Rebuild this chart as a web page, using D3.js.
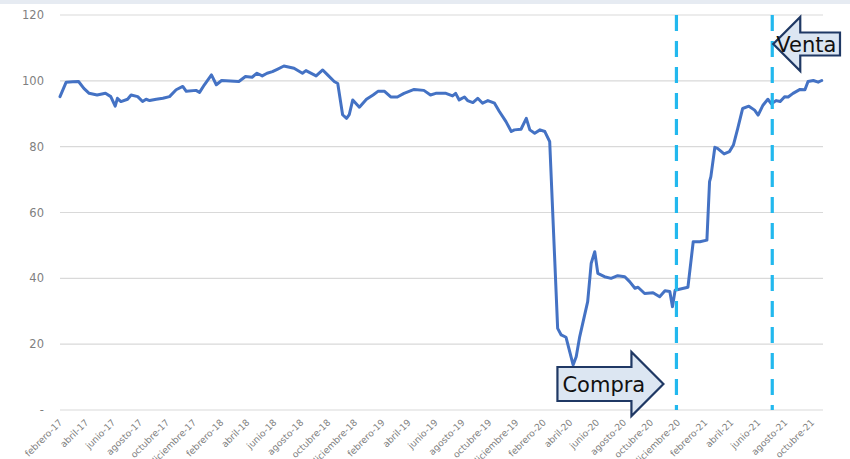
<!DOCTYPE html>
<html>
<head>
<meta charset="utf-8">
<script src="https://cdn.jsdelivr.net/npm/d3@7"></script>
<style>
  html, body { margin: 0; padding: 0; background: #ffffff; }
  svg { display: block; }
</style>
</head>
<body>
<svg id="chart" width="850" height="459"></svg>
<script>
// ---- data ----
const dates = [
  "2017-02-01","2017-02-15","2017-03-02","2017-03-15","2017-03-27","2017-04-08","2017-04-26","2017-05-15","2017-05-27","2017-06-06",
  "2017-06-11","2017-06-19","2017-07-04","2017-07-12","2017-07-27","2017-08-07","2017-08-15","2017-08-23","2017-09-07","2017-09-22",
  "2017-10-07","2017-10-22","2017-11-06","2017-11-14","2017-12-06","2017-12-14","2017-12-25","2018-01-10","2018-01-21","2018-02-02",
  "2018-03-13","2018-03-28","2018-04-12","2018-04-23","2018-05-05","2018-05-16","2018-05-28","2018-06-08","2018-06-23","2018-07-16",
  "2018-08-04","2018-08-12","2018-09-04","2018-09-19","2018-09-30","2018-10-15","2018-10-23","2018-11-03","2018-11-12","2018-11-18",
  "2018-11-26","2018-12-11","2018-12-27","2019-01-11","2019-01-22","2019-02-06","2019-02-20","2019-03-07","2019-03-22","2019-04-14",
  "2019-05-06","2019-05-21","2019-06-02","2019-06-25","2019-07-10","2019-07-17","2019-07-25","2019-08-06","2019-08-13","2019-08-25",
  "2019-09-05","2019-09-16","2019-09-28","2019-10-13","2019-10-24","2019-11-08","2019-11-20","2019-11-27","2019-12-12","2019-12-24",
  "2020-01-01","2020-01-12","2020-01-24","2020-02-04","2020-02-15","2020-03-04","2020-03-12","2020-03-23","2020-04-08","2020-04-15",
  "2020-04-23","2020-05-11","2020-05-19","2020-05-27","2020-06-03","2020-06-18","2020-07-03","2020-07-18","2020-08-03","2020-08-14",
  "2020-08-26","2020-09-02","2020-09-17","2020-10-06","2020-10-21","2020-11-02","2020-11-13","2020-11-19","2020-11-25","2020-12-24",
  "2021-01-05","2021-01-20","2021-02-05","2021-02-11","2021-02-14","2021-02-23","2021-03-01","2021-03-16","2021-03-28","2021-04-06",
  "2021-04-16","2021-04-27","2021-05-11","2021-05-24","2021-06-01","2021-06-12","2021-06-23","2021-07-01","2021-07-12","2021-07-21",
  "2021-07-31","2021-08-08","2021-08-19","2021-09-04","2021-09-15","2021-09-22","2021-10-04","2021-10-15","2021-10-23"
];
const values = [
  95.2, 99.6, 99.7, 99.8, 97.7, 96.2, 95.7, 96.2, 95.2, 92.3,
  94.7, 93.7, 94.4, 95.7, 95.2, 93.7, 94.4, 94.0, 94.4, 94.7,
  95.2, 97.3, 98.3, 96.8, 97.1, 96.5, 98.8, 101.8, 98.8, 100.1,
  99.8, 101.3, 101.1, 102.3, 101.5, 102.3, 102.8, 103.5, 104.5, 103.8,
  102.3, 103.1, 101.5, 103.3, 101.8, 99.8, 99.2, 89.7, 88.6, 89.7,
  94.2, 92.0, 94.4, 95.7, 96.8, 96.8, 95.1, 95.1, 96.2, 97.4,
  97.1, 95.7, 96.2, 96.2, 95.4, 96.2, 94.2, 95.1, 94.0, 93.4,
  94.7, 93.2, 94.0, 93.2, 90.7, 87.6, 84.6, 85.1, 85.3, 88.6,
  85.1, 84.1, 85.1, 84.6, 81.5, 24.8, 22.8, 22.1, 13.7, 16.2,
  22.3, 32.9, 44.6, 48.1, 41.5, 40.5, 40.0, 40.8, 40.5, 39.0,
  37.0, 37.3, 35.4, 35.6, 34.4, 36.2, 36.0, 31.4, 36.4, 37.3,
  51.1, 51.1, 51.6, 69.4, 70.9, 79.8, 79.5, 77.8, 78.5, 80.5,
  85.6, 91.6, 92.3, 91.1, 89.6, 92.6, 94.4, 93.0, 94.0, 93.7,
  95.2, 95.1, 96.2, 97.4, 97.3, 99.8, 100.1, 99.6, 100.1
];
const yTickValues = [0, 20, 40, 60, 80, 100, 120];
const yTickLabels = ["-", "20", "40", "60", "80", "100", "120"];
const xTickStart = "2017-02-01";
const xTickEnd = "2021-10-01";
const monthNames = ["enero","febrero","marzo","abril","mayo","junio","julio","agosto","septiembre","octubre","noviembre","diciembre"];
const eventDates = ["2020-11-28", "2021-07-03"];
const eventLabels = ["Compra", "Venta"];

// ---- setup ----
const parse = d3.timeParse("%Y-%m-%d");
const data = dates.map((d, i) => ({ date: parse(d), value: values[i] }));
const svg = d3.select("#chart");
const W = 850, H = 459;
const mLeft = 60, mRight = 823, mTop = 15, mBottom = 410;

const x = d3.scaleTime()
  .domain([parse(xTickStart), parse(xTickEnd)])
  .range([mLeft, 812]);
const y = d3.scaleLinear().domain([0, 120]).range([mBottom, mTop]);

const locale = d3.timeFormatLocale({
  dateTime: "%x, %X", date: "%d/%m/%Y", time: "%H:%M:%S", periods: ["AM", "PM"],
  days: ["domingo","lunes","martes","miércoles","jueves","viernes","sábado"],
  shortDays: ["dom","lun","mar","mié","jue","vie","sáb"],
  months: monthNames,
  shortMonths: monthNames.map(m => m.slice(0, 3))
});
const fmt = locale.format("%B-%y");

// top band
svg.append("rect").attr("x", 0).attr("y", 0).attr("width", W).attr("height", 4).attr("fill", "#E6EBF2");

// gridlines
svg.append("g").selectAll("line").data(yTickValues).join("line")
  .attr("x1", mLeft).attr("x2", mRight)
  .attr("y1", d => y(d)).attr("y2", d => y(d))
  .attr("stroke", "#D9D9D9").attr("stroke-width", 1.2);

// y labels
svg.append("g").selectAll("text").data(yTickValues).join("text")
  .attr("x", 44).attr("y", d => y(d)).attr("dy", "0.35em")
  .attr("text-anchor", "end")
  .attr("font-family", "'DejaVu Sans', sans-serif")
  .attr("font-size", 11.5).attr("fill", "#7F7F7F")
  .text((d, i) => yTickLabels[i]);

// x labels
const xTicks = d3.timeMonth.range(parse(xTickStart), d3.timeDay.offset(parse(xTickEnd), 1), 2);
svg.append("g").selectAll("text").data(xTicks).join("text")
  .attr("transform", d => `translate(${x(d) + 3},${mBottom + 13}) rotate(-45)`)
  .attr("text-anchor", "end")
  .attr("font-family", "'DejaVu Sans', sans-serif")
  .attr("font-size", 9.2).attr("fill", "#7F7F7F")
  .text(d => fmt(d));

// line
const line = d3.line().x(d => x(d.date)).y(d => y(d.value)).curve(d3.curveLinear);
svg.append("path").datum(data)
  .attr("d", line).attr("fill", "none")
  .attr("stroke", "#4472C4").attr("stroke-width", 3)
  .attr("stroke-linejoin", "round").attr("stroke-linecap", "round");

// event dashed lines
const ev = eventDates.map(parse);
svg.append("g").selectAll("line").data(ev).join("line")
  .attr("x1", d => x(d)).attr("x2", d => x(d))
  .attr("y1", y(120)).attr("y2", y(0))
  .attr("stroke", "#22B8EE").attr("stroke-width", 3.2)
  .attr("stroke-dasharray", "16,10");

// Compra arrow (right-pointing), tip left of first event line
{
  const tipX = x(ev[0]) - 13, cy = 384;
  const bodyL = tipX - 106, headX = tipX - 32, bh = 17, hh = 32;
  const pts = [[bodyL, cy - bh], [headX, cy - bh], [headX, cy - hh], [tipX, cy], [headX, cy + hh], [headX, cy + bh], [bodyL, cy + bh]];
  svg.append("path").attr("d", "M" + pts.join("L") + "Z")
    .attr("fill", "#DCE6F2").attr("stroke", "#1F3864").attr("stroke-width", 2.2).attr("stroke-linejoin", "miter");
  svg.append("text").attr("x", bodyL + 5).attr("y", cy).attr("dy", "0.36em")
    .attr("font-family", "'DejaVu Sans', sans-serif").attr("font-size", 21).attr("fill", "#111")
    .text(eventLabels[0]);
}
// Venta arrow (left-pointing), tip at second event line
{
  const tipX = x(ev[1]) + 1, cy = 44;
  const headX = tipX + 27, bodyR = 840, bh = 11.5, hh = 27;
  const pts = [[bodyR, cy - bh], [headX, cy - bh], [headX, cy - hh], [tipX, cy], [headX, cy + hh], [headX, cy + bh], [bodyR, cy + bh]];
  svg.append("path").attr("d", "M" + pts.join("L") + "Z")
    .attr("fill", "#DCE6F2").attr("stroke", "#1F3864").attr("stroke-width", 2.2).attr("stroke-linejoin", "miter");
  svg.append("text").attr("x", tipX + 3).attr("y", cy).attr("dy", "0.36em")
    .attr("font-family", "'DejaVu Sans', sans-serif").attr("font-size", 21).attr("fill", "#111")
    .text(eventLabels[1]);
}
</script>
</body>
</html>
